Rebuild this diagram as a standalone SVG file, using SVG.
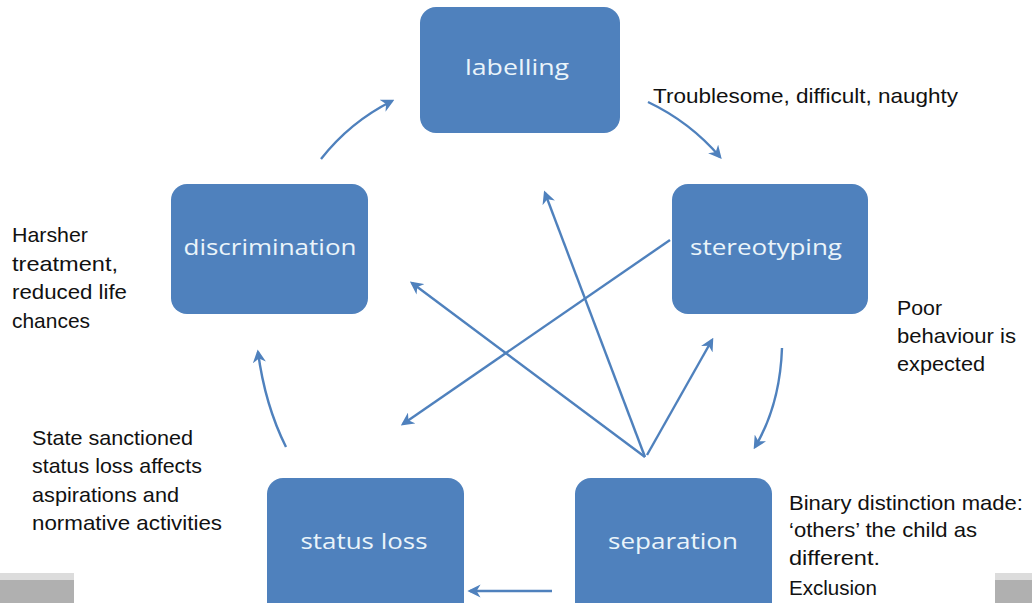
<svg xmlns="http://www.w3.org/2000/svg" width="1032" height="603" viewBox="0 0 1032 603">
<defs>
<style>
.node{fill:#4f81bd;}
.nt{font-family:"Open Sans","Liberation Sans",sans-serif;font-size:21px;fill:#eaf4fa;text-anchor:middle;}
.lb{font-family:"Liberation Sans","DejaVu Sans",sans-serif;font-size:21px;fill:#111;}
.c{fill:none;stroke:#4f81bd;stroke-width:2.4;marker-end:url(#ah);}
</style>
<marker id="ah" viewBox="0 0 10 10" refX="8" refY="5" markerWidth="5.5" markerHeight="5.5" orient="auto" markerUnits="strokeWidth">
<path d="M0,0 L10,5 L0,10 L3,5 Z" fill="#4f81bd"/>
</marker>
</defs>
<rect x="0" y="573" width="74" height="7" fill="#dcdcdc"/>
<rect x="0" y="580" width="74" height="23" fill="#b0b0b0"/>
<rect x="995" y="573" width="37" height="7" fill="#dcdcdc"/>
<rect x="995" y="580" width="37" height="23" fill="#b0b0b0"/>
<g id="connectors">
<path class="c" d="M321,159 Q350,122 392,101"/>
<path class="c" d="M648,102 Q690,122 720,157"/>
<path class="c" d="M782,348 Q780,405 755,447"/>
<path class="c" d="M552,591 L470,591"/>
<path class="c" d="M286,447 Q265,405 258,352"/>
<path class="c" d="M645,457 L545,193"/>
<path class="c" d="M645,457 L412,283"/>
<path class="c" d="M647,455 L712,340"/>
<path class="c" d="M670,240 L403,424"/>
</g>
<g id="labelling"><rect class="node" x="420" y="7" width="200" height="126" rx="16"/><text class="nt" x="517" y="75" textLength="104" lengthAdjust="spacingAndGlyphs">labelling</text></g>
<g id="discrimination"><rect class="node" x="171" y="184" width="197" height="130" rx="16"/><text class="nt" x="270" y="255" textLength="173" lengthAdjust="spacingAndGlyphs">discrimination</text></g>
<g id="stereotyping"><rect class="node" x="672" y="184" width="196" height="130" rx="16"/><text class="nt" x="766" y="255" textLength="152" lengthAdjust="spacingAndGlyphs">stereotyping</text></g>
<g id="status-loss"><rect class="node" x="267" y="478" width="197" height="140" rx="16"/><text class="nt" x="364" y="549" textLength="127" lengthAdjust="spacingAndGlyphs">status loss</text></g>
<g id="separation"><rect class="node" x="575" y="478" width="197" height="140" rx="16"/><text class="nt" x="673" y="549" textLength="130" lengthAdjust="spacingAndGlyphs">separation</text></g>
<g id="labels">
<text class="lb" x="653" y="103" textLength="305" lengthAdjust="spacingAndGlyphs">Troublesome, difficult, naughty</text>
<text class="lb" x="12" y="242" textLength="76" lengthAdjust="spacingAndGlyphs">Harsher</text>
<text class="lb" x="12" y="270.5" textLength="106" lengthAdjust="spacingAndGlyphs">treatment,</text>
<text class="lb" x="12" y="299" textLength="115" lengthAdjust="spacingAndGlyphs">reduced life</text>
<text class="lb" x="12" y="327.5" textLength="78" lengthAdjust="spacingAndGlyphs">chances</text>
<text class="lb" x="897" y="315" textLength="45" lengthAdjust="spacingAndGlyphs">Poor</text>
<text class="lb" x="897" y="343" textLength="119" lengthAdjust="spacingAndGlyphs">behaviour is</text>
<text class="lb" x="897" y="371" textLength="88" lengthAdjust="spacingAndGlyphs">expected</text>
<text class="lb" x="32" y="445" textLength="161" lengthAdjust="spacingAndGlyphs">State sanctioned</text>
<text class="lb" x="32" y="473" textLength="170" lengthAdjust="spacingAndGlyphs">status loss affects</text>
<text class="lb" x="32" y="502" textLength="147" lengthAdjust="spacingAndGlyphs">aspirations and</text>
<text class="lb" x="32" y="530" textLength="190" lengthAdjust="spacingAndGlyphs">normative activities</text>
<text class="lb" x="789" y="510" textLength="234" lengthAdjust="spacingAndGlyphs">Binary distinction made:</text>
<text class="lb" x="789" y="537" textLength="188" lengthAdjust="spacingAndGlyphs">‘others’ the child as</text>
<text class="lb" x="789" y="565" textLength="91" lengthAdjust="spacingAndGlyphs">different.</text>
<text class="lb" x="789" y="595" textLength="88" lengthAdjust="spacingAndGlyphs">Exclusion</text>
</g>
</svg>
